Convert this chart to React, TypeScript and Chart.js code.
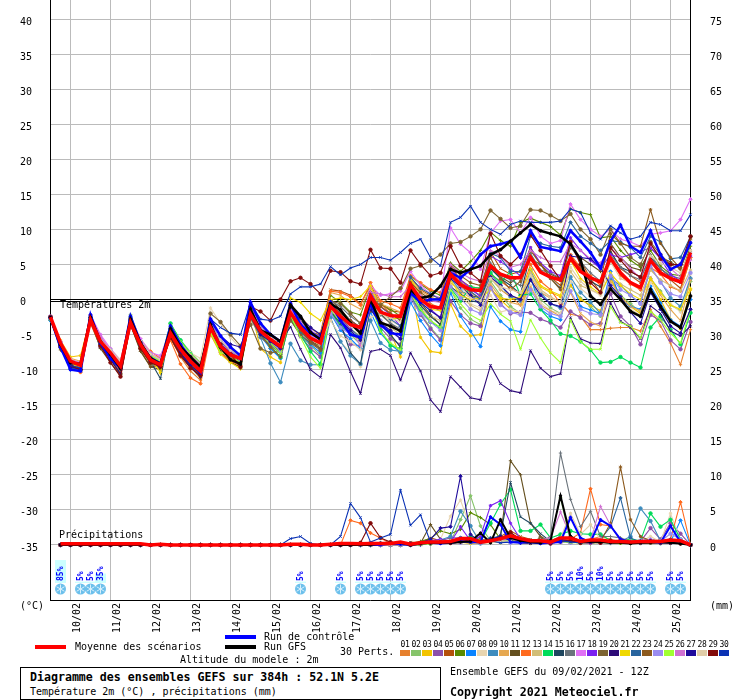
import React, { useEffect, useRef } from "react";
import { Chart, registerables } from "chart.js";

Chart.register(...registerables);

const MONO = '"DejaVu Sans Mono", monospace';

const dayLabels = ["10/02","11/02","12/02","13/02","14/02","15/02","16/02","17/02","18/02","19/02","20/02","21/02","22/02","23/02","24/02","25/02"];
const tempTicks = [-35,-30,-25,-20,-15,-10,-5,0,5,10,15,20,25,30,35,40];
const rainTicks = [0,5,10,15,20,25,30,35,40,45,50,55,60,65,70,75];

const memberColors = ["#e6802e","#86c46a","#f2c400","#8c50aa","#b4500a","#5a8a00","#0a84ff","#e8d5b0","#3e8cbe","#e6a850","#644f1e","#ff6a1e","#d2be78","#00dc5a","#1e465f","#6a737b","#e070f5","#7a20f0","#7d6432","#2d0a78","#f0d800","#28649e","#8c5a1e","#9b8cf0","#a0ff32","#d070d2","#1e0a9b","#e1cda8","#820a0a","#0a32b4"];
const markerStyles = ["cross","rectRot","star","circle","crossRot"];

const t01 = [-2.6,-6.4,-9.6,-10.2,-3.1,-6.2,-8,-9.8,-3.4,-6.6,-8.5,-9.2,-5.4,-8.2,-10.2,-11.5, -4.5,-7,-8.4,-9,-2.4,-4.8,-6.2,-7.5,-1.5,-3.6,-5.8,-6.9,-0.2,-1.8,-3.2,-4.2, 1.2,-0.6,-2,-2.8,2.6,0.8,-0.6,-1.2,3.5,2,1,0.2,3.2,1.4,0.4,-0.8, 3.2,1,0.2,-0.4,-2.1,-2.4,-4.3,-4.3,-4.1,-4,-4,-4.5,-1.4,-3.8,-6.2,-9.3,-4.3];
const t02 = [-3,-6.6,-9.2,-9.6,-2.2,-5.6,-7.5,-9,-2.2,-5.8,-8,-8.6,-3.5,-5.8,-7.5,-9, -4.2,-7.2,-8,-8.8,-2,-4.8,-7,-8.2,-2.8,-5.2,-6.5,-8,-1.8,-3.6,-5,-6.4, -0.8,-3.5,-5.2,-6.6,0.8,-2,-4,-5.6,1.4,-1.2,-2.8,-3.6,2.6,0.6,-1,-2, 2.8,0,-1.2,-2,2,0.2,-1,-2.4,3,0.6,-0.6,-1.8,3,1.2,-0.8,-1.6,2.6];
const t03 = [-2.8,-5.8,-8.2,-8,-2.6,-5.4,-7.6,-10,-3.2,-6,-7.4,-10.5,-4.4,-6.6,-8.6,-9.4, -3.8,-6.4,-8.8,-9.8,-1.2,-7,-8.2,-9,-1,-3,-5,-6,-0.8,-2.8,-4.6,-5.8, 0.6,-3,-4.6,-8.2,2.2,-5.4,-7.4,-7.6,-0.6,-3.8,-5.2,-5,1.6,0,-1.4,-2, 3.8,1.8,1,0.4,2,0,-0.8,-1.6,3,0.4,-1,-2,2.8,0,-2.8,-4.2,1.4];
const t04 = [-2.4,-6.2,-8.8,-9.6,-2.4,-6.8,-8.6,-10,-3,-6.2,-8.8,-9.8,-4.6,-7,-8.6,-10.6, -3,-6.2,-7.6,-8.8,-1.8,-4.4,-6,-7.2,-1.6,-5.2,-7,-8.2,-2,-3.8,-6.4,-6.6, -0.4,-4,-5.6,-6.4,0.6,-2.2,-4.2,-5.8,-0.2,-2.2,-3.4,-3.8,1.8,-0.6,-2,-1.8, -1.9,-2.8,-3.3,-4,-1.7,-2.6,-3.6,-3.4,0.8,-2.4,-3.8,-6.4,-2.2,-3,-5.8,-7.1,-3.2];
const t05 = [-2.5,-7,-9.4,-10,-3.4,-6.8,-8.4,-10.8,-3.6,-7.2,-9.6,-9.4,-5.6,-8,-9.6,-10.2, -3.8,-6,-8.2,-9.4,-2.8,-4.2,-5.2,-6.4,-0.6,-3.2,-5,-4.8,1.4,1.2,0.6,-0.6, 2,-0.6,-1.6,-1.8,3.2,1.4,0.6,0.2,4.8,2.8,1.8,1,6.8,4.4,3.6,4, 7.4,5,3.2,2,8,5.6,3,1,7,4.4,3.4,2.4,5.4,4,2.8,1.6,5.8];
const t06 = [-2.7,-6.6,-9,-9.2,-2.6,-6,-8,-9.2,-2.8,-6.2,-8,-9.4,-3.8,-6.4,-8.2,-9.8, -3.2,-6.4,-7.8,-8.6,-1.6,-4,-5.6,-6.6,-1,-2.8,-4.6,-5.2,0.6,-0.4,-1.8,-2.2, 1.8,-0.6,-1.4,-2.4,3.4,2.2,1.2,0.6,5.2,4,5.4,7,9.6,8.4,7.6,11, 11.6,11,10.4,9.2,12.9,12.4,12.1,8.8,9,7,5.6,4.6,7,4.8,3.6,3.4,7.6];
const t07 = [-3,-6.8,-10,-10.2,-2.8,-6,-7.8,-9,-2.6,-6.4,-8.4,-9,-4.2,-6.6,-8,-10, -3.4,-6,-7.4,-8.4,-2.4,-5.2,-7,-8.4,-2.6,-5,-6.4,-7.6,-2,-4.4,-5.6,-7, -1.8,-4.8,-6.4,-7.6,-0.4,-3,-5,-6.6,1,-2.4,-4.5,-6.7,-1,-3.1,-4.3,-4.6, 3.3,-1.4,-2.4,-2.9,2.9,-1,-1.5,-2,4,0,-1,-1.4,1.9,-0.5,-2.9,-3.8,0];
const t08 = [-2.6,-6,-8.6,-9,-2.4,-5.4,-7,-8.6,-2.6,-5.6,-7.4,-8.2,-4,-6.2,-7.6,-8.4, -1.2,-3.4,-5.4,-7,-2,-3.6,-5.4,-6.2,-0.8,-3,-5,-5.4,-2.6,-6,-7.6,-9.6, -2.6,-1.8,-3,-3.8,1.4,-1,-2.6,-2.4,4,1.2,-0.6,-1.2,0.6,-1.8,-1.4,-1.8, 2,-0.4,-1.6,-2,2.6,1.6,0.4,-0.4,1.4,-0.2,-1.4,-2.2,2.4,0.8,-0.6,-1.8,3.6];
const t09 = [-2.8,-6.8,-9.8,-10,-2.8,-6.2,-8.2,-9.4,-3,-6.6,-8.6,-9.6,-4.4,-7.4,-9.2,-10.4, -3.6,-6.2,-7.4,-8.2,-2.4,-5.4,-9.1,-11.8,-6.3,-8.7,-9.3,-9.3,-2.6,-6,-8,-9.2, -3,-6.2,-7.2,-7.4,0.4,-1.6,-3.2,-4,3,1.2,0.6,-0.2,3.6,2,0.4,-0.2, 4.2,1,-0.6,-1.2,3.2,1,-0.4,-2,3,2,0.6,-0.6,4.4,2.6,0.2,-1,3];
const t10 = [-2.5,-6,-8.4,-8.8,-3,-6,-7.6,-9.4,-3.2,-6.4,-7.6,-9,-4.8,-7.4,-9.4,-10.8, -4.4,-6.8,-8,-8.6,-1.6,-4.2,-6.6,-7.4,-1,-2.4,-4,-5.2,1,0.6,-0.6,-1.4, 1.8,-0.6,-1.2,-1.8,3,1.2,0.4,-0.2,2.4,1.2,0.2,-0.2,2.2,0.2,-0.4,-0.8, 1.8,-0.8,-1.6,-2.4,1,-2,-3.2,-3.8,2.6,0.4,-1,-1.6,3.2,0.6,-1.4,-3,2.8];
const t11 = [-2.6,-7.2,-9.2,-9.4,-3,-7,-9,-10.8,-3.6,-7.4,-9.6,-10,-5.2,-7.8,-9.6,-11.2, -4.4,-7.4,-9,-9.6,-2.2,-4.6,-6.2,-7.4,-2,-4.6,-6,-6.6,0,-1.4,-3,-4, -0.2,-2,-3.4,-4.6,1.6,-0.4,-2.2,-3.6,3.4,2,0.6,0.2,4.6,3.2,2.4,3.4, 5.8,5,3.6,3,7.4,6,5,4,8,6,4.6,4.2,7.4,6,5.4,4.4,8];
const t12 = [-2.5,-6.4,-9.2,-10.4,-3.2,-6.6,-8.4,-10.2,-3.6,-6.8,-7.4,-8.4,-5.8,-9.2,-11.2,-12, -5,-7.6,-8.8,-9.4,-2.6,-4.8,-6,-7,-1.6,-3.6,-5,-5.6,1.2,1,0.4,-0.8, 2.4,-0.2,-0.6,-1.2,3.4,2.4,1.4,1,4.2,2.4,1.8,1.6,3.6,2.6,1.6,0.8, 5,2.6,1.4,-0.6,6.4,4.6,3.4,2,5.6,3.4,2.2,1.4,4.6,3.6,1.8,1.2,6];
const t13 = [-2.7,-6.2,-8.8,-9.4,-2.8,-5.8,-7.4,-9.2,-3.2,-6.2,-8,-8.8,-4.6,-7,-8.6,-9.8, -3.6,-6.8,-8,-9,-3,-5,-6.2,-7.2,-2.8,-4.6,-5.6,-6.6,-1.4,-3,-4.2,-5.2, -1.2,-3,-4,-5,1.2,-1.4,-2.4,-3,2,0.4,-0.8,-1.6,3,1.4,0.6,0, 3.8,1.4,0.4,-0.4,4,2,1.4,0.8,3.6,2.2,1.4,0.6,4.2,2.8,2,1.2,4.2];
const t14 = [-2.6,-6.4,-9,-9.6,-2.6,-6,-7.8,-9.4,-2.6,-6,-8.2,-9,-3.4,-5.8,-7.8,-9.4, -3.6,-6,-7.2,-8,-2.2,-5,-6.6,-8.2,-2.8,-5,-7.4,-9.2,-1.6,-3.8,-4.8,-5.4, -0.4,-4.4,-6.6,-7,1.2,-1.4,-3.2,-4,1.6,-0.2,1.8,1.6,3.8,2.4,4,0.6, 0.8,-1.4,-3,-4.9,-5.2,-6,-7.2,-9,-8.9,-8.2,-9,-9.7,-4,-2.4,-4.3,-6.4,-1.9];
const t15 = [-2.8,-6.6,-9.2,-9.8,-2.6,-6.4,-8.2,-9.4,-3,-6.8,-8.8,-11.3,-4,-6.6,-8.4,-10.2, -4.2,-6.4,-8,-8.8,-2,-4.6,-5.6,-6.6,-1,-3,-4.6,-5.8,-1.6,-3.4,-7.6,-9.2, -0.8,-3.4,-5,-6.8,1.8,-0.8,-2.4,-3.6,1.8,0.8,-0.2,-0.4,4.4,3,2,0.8, 6.4,4,3,1.6,6.2,4,2.6,1.8,6.8,4.6,4,3.2,6,4.4,3.2,2.4,7];
const t16 = [-2.6,-6.4,-9,-9.4,-2.8,-6.2,-7.8,-9.2,-3.4,-6.6,-8.4,-9.2,-5,-7.2,-8.8,-10, -4.2,-6.4,-7.6,-8.4,-2.6,-5.4,-6.6,-7.6,-2.4,-4.2,-6,-7,-0.2,-1,-2.4,-3.4, -1.4,-2.2,-3.4,-4.2,1.4,0.2,-1,-1.6,3.2,2.4,1.4,0.6,5.2,3.4,2.8,2, 6.6,4.2,3.8,3,7.6,5.4,3.8,2.6,6.4,4.6,3.4,2.8,6.4,4.4,3.4,3,6.6];
const t17 = [-2.6,-6,-8.6,-9.2,-2.2,-5,-7,-8.8,-2.6,-5.6,-7.6,-8,-4.4,-6.4,-8,-9.4, -3.2,-5.8,-7,-8,-2,-4.6,-6,-7,-1.6,-3.4,-5,-6,-1.2,-2.6,-3.6,-4.4, 2,0.6,0.8,1.2,4,2,0.8,0.2,10.2,7.9,6.7,4.3,9.5,11.2,11.4,9.5, 11.7,9,8,8.4,13.6,11.4,10,9,10,8.6,8.2,7.6,9.3,9.5,9.8,11.4,14.3];
const t18 = [-2.5,-6.2,-9.2,-9.8,-2.6,-6.4,-8.6,-9.8,-3,-6.4,-8.8,-9.4,-4.6,-7.2,-9,-10.4, -3.6,-6.4,-7.6,-8.8,-1,-3.6,-5.4,-6.6,-0.6,-2.6,-4.4,-5.4,-0.6,-2,-3,-4, 1,-1,-2.2,-3.8,1.8,0,-1.4,-2.6,4.4,2.8,1.6,0.4,6.2,5.4,4.4,3.4, 7.4,5.2,4,3.4,8.8,7,5.6,4.4,6.4,6,6.4,6.8,7.4,5.8,3.6,2.6,6.2];
const t19 = [-2.6,-6.8,-9.4,-10,-3,-6.6,-8.4,-10.6,-3.4,-7,-9.2,-9.6,-5.2,-7.8,-9.4,-10.8, -2,-3.2,-5,-6.6,-3.6,-7,-7.6,-7.4,-3,-5,-6.2,-7.2,-0.2,-0.6,-2,-3.4, -1.6,-0.8,0.4,1.6,4.4,4.8,5.5,6.4,8,8.2,9,10,12.7,11.5,10.2,10.5, 12.8,12.7,12,11.2,12.2,10,8.6,6.4,10,8,6,5,8.2,6.4,5,4.4,9];
const t20 = [-2.6,-6.6,-9.4,-9.8,-2.6,-6.2,-8.6,-10.6,-3.2,-6.6,-8.6,-9.8,-5,-7.8,-9.6,-11, -3.8,-6,-7.6,-8.6,-1.4,-4.6,-6,-6,-3.9,-7.1,-10,-11.1,-5,-6.9,-10.3,-13.4, -7.4,-7.1,-8,-11.5,-7.6,-10.2,-14.3,-16,-11,-12.5,-14,-14.3,-9.4,-12,-13,-13.3, -7.3,-9.8,-11,-10.6,-2.6,-5.6,-6.2,-6.3,-0.5,-3.1,-4,-5.6,-0.9,-2,-4.5,-5.2,-3.8];
const t21 = [-2.6,-6,-8.8,-10.2,-2.8,-6,-8,-9.8,-3,-6.2,-8.4,-10.4,-4.4,-6.8,-8.4,-9.4, -4.8,-7.8,-9,-9.9,-2.2,-4.4,-5.4,-7.2,0.2,-0.4,-2,-3,0,0.2,0,0.4, 2,-1.6,-2.8,-2.6,3,0.6,-1.4,-1.6,2.8,0.6,0,0.2,1.4,0.2,0,0.4, 4.4,2,1.2,0.6,5.6,3,1.8,0.8,3.8,2,0.8,0,3,1,-0.8,-1.4,1.6];
const t22 = [-2.7,-6.4,-9.8,-10,-2.8,-6.2,-8,-9.4,-3,-6.4,-8.2,-9,-4.4,-6.8,-8.6,-10, -3.4,-6,-7.4,-8.8,-1.6,-4,-6.2,-7.8,-2.2,-4.6,-6,-7,-1,-2.6,-4.2,-5.4, 0.8,-1.6,-2.8,-3.8,3.2,1.6,0.8,0,3.6,2.2,1.2,0,6.6,6,4,4, 9,8,7.6,7.4,11,9,8,7,8.4,8.2,7.4,6,9,8.2,5.8,6,9];
const t23 = [-2.6,-6.6,-9.4,-9.8,-3,-6.4,-8.2,-10,-3.4,-6.8,-9,-9.6,-5.2,-7.6,-9.2,-10.6, -4.2,-6.6,-7.6,-9.8,-2.6,-5,-6.8,-8.2,-2.4,-4.4,-6,-7,-0.6,-2,-3,-4, 0.6,-1,-2,-3,2.4,1,0,0.2,5,3.4,2.4,2,6,3,1.4,2.6, 7,5,3,1.4,6,4.4,3,2.6,9.4,8,7.6,7.6,12.8,8,6,4.4,8.6];
const t24 = [-2.6,-6.2,-8.8,-9.2,-2.4,-5.6,-7.2,-8.8,-2.8,-6,-7.8,-8.6,-4.2,-6.8,-8.4,-9.6, -4,-6.6,-8,-8.6,-1.8,-4.4,-5.8,-7.4,-1.8,-3.8,-5.2,-6.2,-2,-4,-5,-5.8, -0.6,-3,-4.6,-5.6,0,-2,-3.2,-4.4,1.8,0.2,-1.4,-2,1.6,-0.8,-1.8,-2.2, 1.4,-1,-2,-2.4,1.2,-1.4,-2,-2.2,3.4,1.4,0.6,-0.6,4.8,2.4,0.8,0.4,3.8];
const t25 = [-2.8,-6.4,-9,-9.6,-2.8,-6,-7.8,-9.2,-2.8,-6.2,-8,-8.8,-3.6,-6,-7.8,-9.2, -4.6,-7.6,-8,-9,-2.2,-4.6,-6.2,-7.8,-2.2,-5.4,-8.2,-9.8,-1.4,-3.2,-5,-5.8, -0.6,-4.6,-6.2,-7.2,1,-1.4,-3,-4,1.4,-0.6,-2.2,-3,-0.6,-2.1,-3.1,-7.1, -2.9,-5.5,-7.6,-9,-2.9,-6,-7.1,-7.1,-1,-3.3,-3.8,-5.5,-1.7,-2.9,-4.8,-6.2,-1.4];
const t26 = [-2.5,-6,-8.6,-9,-2.4,-5.2,-7.4,-8.8,-2.8,-6,-7.8,-8.4,-4.2,-6.4,-8,-9.2, -3.8,-6.2,-7.4,-8.2,-1.8,-4,-5.2,-6.6,-1.4,-3.2,-4.8,-5.8,-1.2,-3,-4.2,-6.6, 1,0.8,0.4,0.4,2,0.6,-0.2,-0.4,5,3.8,3,2.6,7,6.2,4.6,5, 7,6,5.4,5.4,8,7,5.8,5.2,7.4,6,4.4,3,7.8,6,4.4,3.2,5.6];
const t27 = [-2.6,-6.6,-9.6,-10,-2.6,-6.4,-8.2,-9.6,-3,-6.6,-8.8,-9.6,-4.8,-7.6,-9.4,-10.6, -3,-5.2,-6.4,-6.8,-2.4,-5,-6,-7,-0.8,-2.6,-4,-5,-0.8,-3,-4.4,-5.8, -1.4,-3.4,-4.4,-5.6,1.2,-0.4,-1.6,-2.6,3,1.8,0.6,-0.8,3.2,2,0.6,0, 2.8,0.6,-0.6,-1,6.2,6,5.8,4.6,2,0.4,-1.8,-3.4,1,-1.4,-3.8,-4.8,-1.4];
const t28 = [-2.7,-6.2,-8.6,-9.4,-2.6,-5.8,-7.2,-8.8,-3,-6,-7.8,-8.6,-4.4,-6.6,-8.2,-9.4, -3.6,-5.8,-7.2,-8,-1.4,-3.6,-5.2,-6.6,-2,-3.8,-5.4,-6.2,-3,-5.2,-6,-7.2, -0.8,-2,-2.6,-3.2,1.8,-0.2,-1,-1,4.2,2,0.2,-0.2,3,1.8,1.4,1, 3.4,1.2,0.2,-0.4,4.6,2.6,1.4,0.6,5.4,3,2.4,1.6,6.2,5.2,4.6,3.8,7];
const t29 = [-2.5,-6.6,-9.4,-10,-3,-6.6,-9,-11,-3.6,-7,-9,-9.6,-5.4,-8,-9.8,-10.8, -4,-6.4,-7.8,-9.6,-1,-1.7,-3,0,2.6,3.1,2.2,0.8,4.1,3.9,2.6,2.2, 7.1,4.5,4.4,2.4,7,5,3.4,3.8,7.6,4.8,3.8,2.6,9.4,6.2,5,6.4, 9.2,7,4.8,2.8,8.2,5,2.4,1,7.4,5.6,4,3.2,8,5.8,5,5,9];
const t30 = [-2.5,-6.6,-9.4,-9.8,-2.6,-6.2,-8,-9.4,-2.8,-6.2,-8.2,-9,-4.2,-6.6,-8.2,-9.8, -2.8,-4,-4.8,-5,-0.5,-2.8,-3,-2.4,0.8,1.8,1.8,2.2,4.7,3.5,4.5,5, 6,6,5.6,6.7,8,8.6,6,4.8,11,11.7,13.3,11,10,9.3,10.7,11.2, 11,11,11,11.2,12.9,12.4,9.5,8.6,10.5,9.5,8.6,9,11,10.7,9.8,9.8,12.1];
const tControl = [-2.6,-6.8,-10,-10.2,-2.2,-6.2,-8.4,-9.8,-2.4,-6.2,-8.4,-9.2,-3.8,-6.4,-8.4,-10.4, -2.8,-5.2,-6.8,-8,-0.4,-3.4,-5,-6,-0.6,-3.6,-4.8,-5.6,-0.4,-3,-5,-5.4, -0.6,-3.6,-4.8,-5,0.9,-0.4,0,0,3.8,3.1,4.3,6.4,7.6,7.9,8.3,6, 9.8,7.5,7.2,6.9,9.8,8.3,6.7,4.5,8.3,10.6,7.6,6.7,9.8,6.4,4.3,5,8.1];
const tGfs = [-2.6,-6.4,-9,-9.2,-2.6,-6,-7.8,-9.8,-2.8,-6.2,-8.4,-9.2,-4.2,-6.8,-8.2,-9.6, -3.6,-6.8,-8.6,-9.2,-1.4,-4.4,-5,-6,-0.8,-2.4,-4.7,-5.7,-0.6,-1.5,-3.4,-4.8, 0,-3.3,-3.8,-4.5,1.4,0.2,0.5,1.9,4.3,3.8,4.3,4.8,6.4,7.1,8.3,9.5, 10.7,9.8,9.4,9,7.9,5.7,0.5,-0.7,1.5,0,-1.7,-2.4,1.4,-1,-3.1,-4,0.5];
const tMean = [-2.5,-6.2,-8.8,-9.4,-2.9,-6,-7.6,-9.5,-3.3,-6.4,-8.6,-9.3,-4.8,-7.1,-8.8,-10.2, -4,-6.7,-7.9,-8.4,-2.1,-4.5,-5.7,-6.7,-1.9,-4,-5.5,-6.2,-1,-2.4,-3.6,-4, 0.5,-1.8,-2.3,-2.4,2.1,0,-1,-1.2,3.6,2.1,1.4,1.3,4.8,3.6,3.1,3.1, 6,3.9,3.2,2.8,5.9,4,3.1,2.5,5.9,3.8,2.4,1.7,5.6,3.8,3,2.5,6.7];

const dry24 = [null,0,0,0,0,0,0,0,0,0,0,0,0,0,0,0,0,0,0,0,0,0,0,0];
const dry8 = [0,0,0,0,0,0,0,0];

const p01 = [...dry24,...dry8, .2,0,0,0, 0,.3,.6,.4, .2,.6,.3,.2, .4,.8,1,.8, .4,.2,.6,1.2, .6,.2,.8,1.2, .8,.4,.2,.4, .8,.6,.2,.4, 0];
const p02 = [...dry24,...dry8, 0,0,0,0, 0,0,.2,.5, .4,3.6,7,2.7, .6,.3,.8,.4, .3,.6,1,6.7, .4,.4,.6,.4, .2,.3,.6,.2, .4,.2,.5,.2, 0];
const p03 = [...dry24,...dry8, 0,.2,0,0, 0,.3,.5,.3, .2,.4,.2,.6, .8,.5,1.2,.4, .2,.3,.4,.6, .8,.4,.2,.6, .5,.3,.5,.6, .3,.2,.4,.6, 0];
const p04 = [...dry24,...dry8, 0,0,0,0, .2,.3,.4,.6, 1,1,.6,.4, .8,1,.8,.6, .4,.3,.2,.8, .6,.3,.5,.3, .4,.6,.3,.5, 2.4,.8,3.1,1.6, 0];
const p05 = [...dry24,...dry8, .3,0,0,0, .4,.3,1,.6, .3,.5,.4,.6, .6,1.2,2,1.2, .8,.3,.3,.4, .5,.4,.3,.6, .4,.6,.8,.4, .3,.3,.3,.3, 0];
const p06 = [...dry24,...dry8, 0,0,0,0, .2,.5,.9,2, 1.6,2.2,4.6,3.9, 2.9,.8,.6,.3, .3,.5,.4,.6, .7,.3,.2,.4, .3,.4,.2,.6, .5,.3,.3,.2, 0];
const p07 = [...dry24,...dry8, .1,0,0,0, 0,0,.3,.4, .6,1,.6,.5, .5,.6,.4,.7, .4,.3,.5,1.2, .6,.3,.4,.5, .3,.4,.4,.5, .4,.2,.4,3.5, 0];
const p08 = [...dry24,...dry8, 0,0,0,0, 0,.2,.4,.8, 4.1,6.4,2.4,.8, .5,.4,1,.6, .4,.5,.3,.6, .6,.5,.3,.5, .4,.3,.6,.4, 1.2,.4,4.5,.6, 0];
const p09 = [...dry24,...dry8, 0,0,0,0, 0,.2,.5,.7, 1.2,4.8,2.7,.2, .6,.5,.8,.3, .6,.4,.3,.5, .5,.3,.4,.4, .6,.5,1.2,5.2, 3.4,.6,.4,.4, 0];
const p10 = [...dry24,...dry8, 0,0,0,0, .2,.2,.4,.5, .5,.4,.3,.6, .8,1,1.6,.8, .6,.4,.6,1, .7,.5,.5,.8, .6,.5,.3,.4, .4,.6,.6,.4, 0];
const p11 = [...dry24,...dry8, 0,0,0,0, .3,.2,2.9,.8, .4,.3,.5,.6, .8,1.2,12,10, 3.1,1.2,.5,.4, .6,.4,.3,.5, .4,.5,.4,.3, .3,.4,.3,.2, 0];
const p12 = [...dry24, 0,0,0,0,0,0,3.5,3.1, 1.7,1,.2,0, .2,.3,.4,.5, .4,.6,.5,.4, .6,.8,1,.7, .5,.4,.3,.6, .8,1.7,8,2.9, 2.7,.8,.5,.4, .3,.4,.8,6.1, 0];
const p13 = [...dry24,...dry8, 0,0,0,0, 0,.2,.3,.4, .4,.6,.5,.3, .3,.5,.8,.6, .3,.6,.5,.5, .4,.3,.3,.3, .5,.3,.4,.4, .4,.6,.4,.3, 0];
const p14 = [...dry24,...dry8, 0,0,0,0, 0,.2,.2,.3, .4,.6,1.2,.4, 3.1,5.8,7.9,2, 2,2.9,1,1.5, 2,1.6,1.5,1.5, .6,.4,.8,.6, 4.5,2.6,3.6,.8, 0];
const p15 = [...dry24,...dry8, 0,0,0,0, 0,.2,.3,.3, .5,.8,.4,.3, .6,1.4,8.9,4, 3.1,1.6,.5,.4, 1.2,.5,.4,.3, .5,.4,.3,.6, .8,.4,.3,.2, 0];
const p16 = [...dry24,...dry8, 0,0,0,0, 0,0,.3,.4, .3,.6,.4,.3, .4,.8,1.6,.9, .6,.4,1.2,13.1, 6.5,2.6,4.8,1.2, 1.2,1,.5,.4, .6,.3,.4,.3, 0];
const p17 = [...dry24,...dry8, 0,0,0,.2, 0,.2,.3,.2, .6,.8,.6,.3, .4,.9,.6,.4, .3,.4,.5,.8, .6,.4,.6,.7, .5,.3,.4,.6, .8,.4,.6,.4, 0];
const p18 = [...dry24,...dry8, 0,0,0,0, 0,0,.6,.8, .4,2.6,.6,1.2, 5.6,6.3,3.1,.8, .4,.3,.4,.5, .3,.4,.2,.6, .4,.3,.4,.3, .6,.4,.3,.4, 0];
const p19 = [...dry24,...dry8, 0,0,0,0, .2,.3,.2,.4, .6,.4,.6,.8, .5,.8,1,.4, .3,1,.6,.6, .4,.3,.5,.4, .6,.3,.5,.4, .3,.4,.3,.2, 0];
const p20 = [...dry24,...dry8, 0,0,0,0, 0,.2,.3,.2, .2,.4,.3,.3, .5,.4,.8,.3, .2,.3,.4,.5, .6,.5,.3,.4, .3,.3,.4,.2, .4,.3,.2,.4, 0];
const p21 = [...dry24,...dry8, 0,0,0,0, .2,.3,.4,.6, .5,.4,.3,.5, .4,.8,.9,.6, .3,.2,.4,1, .8,.4,.3,.6, .4,.3,.5,.3, .3,.4,.4,.2, 0];
const p22 = [...dry24,...dry8, 0,.3,.4,.1, 0,.2,.3,.5, .4,.6,.4,.3, 1,1.2,.8,.4, .3,.4,.3,.6, .4,.3,.5,.8, 2.6,6.7,1,.4, .3,.5,.8,.3, 0];
const p23 = [...dry24,...dry8, 0,0,0,0, .2,.3,.4,.3, .4,.5,.8,.6, .5,.6,.8,.4, .5,.3,.4,.6, .4,.3,.4,.5, 3.1,11.1,3.6,1.2, .6,.4,.3,.4, 0];
const p24 = [...dry24,...dry8, 0,0,0,0, 0,.2,.4,.5, .4,.3,.6,.3, .4,.5,.3,.3, .4,.5,.6,.4, .3,.5,.4,.8, .3,.4,.5,.6, .7,.5,1.6,.8, 0];
const p25 = [...dry24,...dry8, 0,0,0,0, 0,0,.2,.3, .3,.4,.5,.6, .4,.5,.7,.3, .4,.2,.3,.5, .3,.3,.4,.3, .4,.2,.6,.5, .4,.3,.5,.3, 0];
const p26 = [...dry24,...dry8, 0,0,0,0, .2,.2,.4,.3, .5,.7,.4,.3, .4,.6,.9,.5, .4,.7,1,4.7, 1.2,.4,.6,5.5, 2.8,.6,.4,.3, .5,.4,.3,.6, 0];
const p27 = [...dry24,...dry8, 0,0,0,0, .2,.3,.8,2.4, 2.6,9.8,1.5,.4, .8,1.2,.6,.3, .4,.3,.6,.8, .5,.4,.4,.3, .5,.4,.3,.5, .6,.4,.6,.2, 0];
const p28 = [...dry24,...dry8, 0,0,0,0, 0,.2,.3,.4, .6,.4,.3,.5, .3,.6,.5,.4, .4,.6,.5,1, 4.5,1.5,2.9,.8, .6,.4,.3,.4, .3,.3,.5,.4, 0];
const p29 = [...dry24, 0,0,0,0,0,0,0,.3, 3.1,1,.4,.2, 0,.2,.3,.4, .3,.5,.7,.4, .6,.9,1.8,.7, .4,.3,.2,.5, .6,.3,.4,.3, .6,.5,.3,.4, .5,.3,.4,.2, 0];
const p30 = [...dry24, .9,1.2,.2,0, 0,1.2,5.9,3.9, .4,1,1.5,7.8, 2.8,4.3,.4,.4, .5,.6,.3,.4, .6,.3,.4,.5, .3,.2,.4,.6, .4,.3,.4,.5, .3,.6,.3,.4, .5,.3,.4,.2, 0];
const pControl = [...dry24,...dry8, 0,0,.2,.1, 0,.2,.3,.2, .3,.5,.4,.4, 4,2.9,.4,.3, .4,.2,.3,.4, 3.9,1,.4,3.6, 2.7,.8,.4,.5, .4,.3,2.7,.4, 0];
const pGfs = [...dry24,...dry8, 0,.2,.2,.3, 0,.2,.3,.3, .3,.4,.5,1.7, .3,3.6,1,.6, .4,.3,.6,7, 1.2,.4,.5,.4, .3,.3,.2,.3, .3,.4,.3,.2, 0];
const pMean = [null,.15,.15,.15,.15,.15,.15,.15,.15,.15,0,.1,0,0,0,0,0,0,0,0,0,0,0,0,.1,.1,0,0,.1,.2,.2,.15, .2,.2,.2,.4, .1,.3,.4,.4, .5,.9,.9,.4, .6,.9,1.3,.9, .6,.6,.4,1, 1,.5,.7,.7, .5,.5,.4,.5, .5,.5,.7,.6, 0];

const snowPct = [0,85,0,5,5,35,0,0,0,0,0,0,0,0,0,0,0,0,0,0,0,0,0,0,0,5,0,0,0,5,0,5,5,5,5,5,0,0,0,0,0,0,0,0,0,0,0,0,0,0,5,5,5,10,5,10,5,5,5,5,5,0,5,5,0];

const memberTemps = [t01,t02,t03,t04,t05,t06,t07,t08,t09,t10,t11,t12,t13,t14,t15,t16,t17,t18,t19,t20,t21,t22,t23,t24,t25,t26,t27,t28,t29,t30];
const memberRain = [p01,p02,p03,p04,p05,p06,p07,p08,p09,p10,p11,p12,p13,p14,p15,p16,p17,p18,p19,p20,p21,p22,p23,p24,p25,p26,p27,p28,p29,p30];

const stepLabels = tMean.map((_, i) => ((i - 2) % 4 === 0 && dayLabels[(i - 2) / 4]) || "");

const zeroPadding = (s: any) => {
  s.paddingTop = 0;
  s.paddingBottom = 0;
  s.paddingLeft = 0;
  s.paddingRight = 0;
};

const zeroLines = {
  id: "zeroLines",
  beforeDatasetsDraw(chart: any) {
    const { ctx, chartArea: a, scales } = chart;
    const y0 = Math.round(scales.y.getPixelForValue(0));
    ctx.save();
    ctx.fillStyle = "#000";
    ctx.fillRect(a.left, y0 - 1, a.width, 1);
    ctx.fillRect(a.left, y0 + 1, a.width, 1);
    ctx.restore();
  },
};

const snowMarks = {
  id: "snowMarks",
  afterDatasetsDraw(chart: any) {
    const { ctx, scales, chartArea } = chart;
    const floor = chartArea.bottom;
    ctx.save();
    snowPct.forEach((pct, i) => {
      if (!pct) return;
      const x = Math.round(scales.x.getPixelForValue(i)) - 1;
      const h = pct * 0.27;
      ctx.fillStyle = "#ccffff";
      ctx.fillRect(x - 5, floor - 17 - h, 11, h);
    });
    snowPct.forEach((pct, i) => {
      if (!pct) return;
      const x = Math.round(scales.x.getPixelForValue(i)) - 0.5;
      const y = floor - 11;
      ctx.fillStyle = "#6cc0ec";
      ctx.beginPath();
      ctx.arc(x, y, 5.5, 0, Math.PI * 2);
      ctx.fill();
      ctx.strokeStyle = "#d8f0fc";
      ctx.lineWidth = 1;
      for (let k = 0; k < 3; k++) {
        const ang = (k * Math.PI) / 3 + Math.PI / 6;
        ctx.beginPath();
        ctx.moveTo(x - Math.cos(ang) * 4.5, y - Math.sin(ang) * 4.5);
        ctx.lineTo(x + Math.cos(ang) * 4.5, y + Math.sin(ang) * 4.5);
        ctx.stroke();
      }
      ctx.save();
      ctx.translate(x + 2.5, floor - 19);
      ctx.rotate(-Math.PI / 2);
      ctx.font = `bold 8px ${MONO}`;
      ctx.fillStyle = "#0000ff";
      ctx.textAlign = "left";
      ctx.textBaseline = "alphabetic";
      ctx.fillText(`${pct}%`, 0, 0);
      ctx.restore();
    });
    ctx.restore();
  },
};

function series(label: string, data: any[], axis: string, color: string, width: number, radius: number, style: string) {
  return {
    label,
    data,
    yAxisID: axis,
    borderColor: color,
    backgroundColor: color,
    borderWidth: width,
    pointRadius: radius,
    pointStyle: style,
    pointBorderWidth: 1,
    pointBorderColor: color,
    pointBackgroundColor: color,
    tension: 0,
    fill: false,
    spanGaps: false,
    borderJoinStyle: "miter",
  };
}

function Text({ x, y, bold, size, children }: any) {
  return (
    <div
      style={{
        position: "absolute",
        left: x,
        top: y,
        transform: "translateY(-50%)",
        font: `${bold ? "bold " : ""}${size || 10}px ${MONO}`,
        lineHeight: "12px",
        whiteSpace: "pre",
        color: "#000",
      }}
    >
      {children}
    </div>
  );
}

function Bar({ x, y, w, h, color, border }: any) {
  return (
    <div
      style={{
        position: "absolute",
        left: x,
        top: y,
        width: w,
        height: h,
        background: color,
        border: border,
        boxSizing: "border-box",
      }}
    />
  );
}

export default function App() {
  const ref = useRef<HTMLCanvasElement>(null);

  useEffect(() => {
    const members: any[] = [];
    for (let m = 29; m >= 0; m--) {
      const tag = String(m + 1).padStart(2, "0");
      const style = markerStyles[m % markerStyles.length];
      members.push(series(`T ${tag}`, memberTemps[m], "y", memberColors[m], 1.1, 1.7, style));
      members.push(series(`P ${tag}`, memberRain[m], "y1", memberColors[m], 1.1, 1.7, style));
    }
    const chart = new Chart(ref.current as HTMLCanvasElement, {
      type: "line",
      data: {
        labels: stepLabels,
        datasets: [
          series("Moyenne T", tMean, "y", "#ff0000", 3.5, 0, "circle"),
          series("Moyenne P", pMean, "y1", "#ff0000", 3.5, 0, "circle"),
          series("GFS T", tGfs, "y", "#000000", 2.5, 1.4, "circle"),
          series("GFS P", pGfs, "y1", "#000000", 2, 1.2, "circle"),
          series("Controle T", tControl, "y", "#0000ff", 2.5, 1.4, "circle"),
          series("Controle P", pControl, "y1", "#0000ff", 2, 1.2, "circle"),
          ...members,
        ] as any,
      },
      plugins: [zeroLines, snowMarks] as any,
      options: {
        animation: false,
        responsive: false,
        devicePixelRatio: 1,
        events: [],
        layout: { padding: { left: 20, right: 0, top: 0, bottom: 0 } },
        plugins: { legend: { display: false }, tooltip: { enabled: false } },
        scales: {
          x: {
            type: "category",
            offset: false,
            afterBuildTicks: (s: any) => {
              s.ticks = s.ticks.filter((t: any) => stepLabels[t.value] !== "");
            },
            afterFit: (s: any) => {
              s.height = 100;
              zeroPadding(s);
            },
            grid: { color: "#bbbbbb", lineWidth: 1, drawTicks: false },
            border: { color: "#000", width: 1 },
            ticks: {
              autoSkip: false,
              minRotation: 90,
              maxRotation: 90,
              padding: 3,
              labelOffset: 7,
              color: "#000",
              font: { family: MONO, size: 10 },
            },
          },
          y: {
            position: "left",
            min: -300 / 7,
            max: 300 / 7,
            afterBuildTicks: (s: any) => {
              s.ticks = tempTicks.map((value) => ({ value }));
            },
            afterFit: (s: any) => {
              s.width = 30.5;
              zeroPadding(s);
            },
            grid: { color: "#bbbbbb", lineWidth: 1, drawTicks: false },
            border: { color: "#000", width: 1 },
            ticks: {
              crossAlign: "far",
              labelOffset: 3,
              color: "#000",
              font: { family: MONO, size: 10 },
            },
          },
          y1: {
            position: "right",
            min: 35 - 300 / 7,
            max: 35 + 300 / 7,
            afterBuildTicks: (s: any) => {
              s.ticks = rainTicks.map((value) => ({ value }));
            },
            afterFit: (s: any) => {
              s.width = 49.5;
              zeroPadding(s);
            },
            grid: { display: false, drawTicks: false },
            border: { color: "#000", width: 1 },
            ticks: {
              padding: 19.5,
              labelOffset: 3,
              color: "#000",
              font: { family: MONO, size: 10 },
            },
          },
        },
      } as any,
    });
    return () => chart.destroy();
  }, []);

  return (
    <div style={{ position: "absolute", left: 0, top: 0, width: 740, height: 700, background: "#fff", overflow: "hidden" }}>
      <canvas ref={ref} width={740} height={706} style={{ position: "absolute", left: 0, top: -6, display: "block" }} />
      <Text x={60} y={305}>Températures 2m</Text>
      <Text x={59} y={535}>Précipitations</Text>
      <Text x={20} y={606}>(°C)</Text>
      <Text x={710} y={606}>(mm)</Text>

      <Bar x={35} y={645} w={31} h={4} color="#ff0000" />
      <Text x={75} y={647}>Moyenne des scénarios</Text>
      <Bar x={225} y={635} w={31} h={4} color="#0000ff" />
      <Text x={264} y={637}>Run de contrôle</Text>
      <Bar x={225} y={645} w={31} h={4} color="#000000" />
      <Text x={264} y={647}>Run GFS</Text>
      <Text x={340} y={652}>30 Perts.</Text>
      <Text x={180} y={660}>Altitude du modele : 2m</Text>

      {memberColors.map((c, i) => (
        <React.Fragment key={c + i}>
          <Bar x={400 + i * 11} y={650} w={10} h={6} color={c} />
          <div
            style={{
              position: "absolute",
              left: 400 + i * 11,
              width: 10,
              top: 640,
              textAlign: "center",
              font: `8px ${MONO}`,
              lineHeight: "9px",
              letterSpacing: "-0.3px",
              color: "#000",
            }}
          >
            {String(i + 1).padStart(2, "0")}
          </div>
        </React.Fragment>
      ))}

      <Bar x={20} y={667} w={421} h={33} color="#fff" border="1px solid #000" />
      <Text x={30} y={677} bold size={11.6}>Diagramme des ensembles GEFS sur 384h : 52.1N 5.2E</Text>
      <Text x={30} y={692}>Température 2m (°C) , précipitations (mm)</Text>
      <Text x={450} y={672}>Ensemble GEFS du 09/02/2021 - 12Z</Text>
      <Text x={450} y={692} bold size={11.6}>Copyright 2021 Meteociel.fr</Text>
    </div>
  );
}
